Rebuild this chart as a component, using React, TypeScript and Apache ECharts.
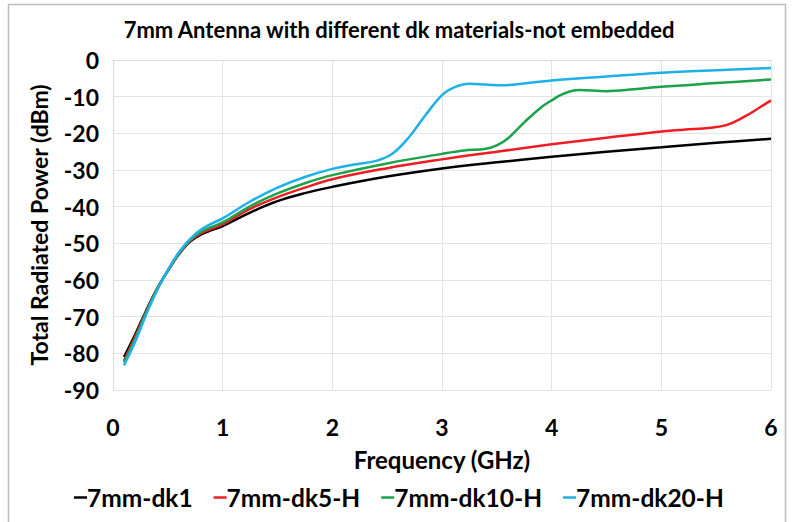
import React, { useEffect, useRef } from "react";
import * as echarts from "echarts";

const seriesNames = ["7mm-dk1", "7mm-dk5-H", "7mm-dk10-H", "7mm-dk20-H"];
const seriesColors = ["#000000", "#ee1d23", "#1aa34a", "#1eb1e7"];

const dk1Freq = [0.1, 0.2, 0.3, 0.4, 0.5, 0.6, 0.7, 0.8, 0.9, 1.0, 1.25, 1.5, 1.75, 2, 2.5, 3, 3.5, 4, 4.5, 5, 5.5, 6];
const dk1Power = [-81, -75, -68.5, -62.5, -57.5, -53, -49.6, -47.6, -46.4, -45.3, -41.6, -38.5, -36.3, -34.6, -31.8, -29.6, -27.9, -26.4, -25, -23.8, -22.6, -21.5];

const dk5Freq = [0.1, 0.2, 0.3, 0.4, 0.5, 0.6, 0.7, 0.8, 0.9, 1.0, 1.25, 1.5, 1.75, 2, 2.5, 3, 3.5, 4, 4.5, 5, 5.2, 5.45, 5.6, 5.75, 5.9, 6];
const dk5Power = [-82, -75.6, -68.8, -62.6, -57.5, -52.9, -49.4, -47.3, -46, -44.8, -40.6, -37.4, -34.8, -32.5, -29.5, -27.1, -25, -23, -21.2, -19.5, -19, -18.5, -17.7, -15.6, -12.9, -11];

const dk10Freq = [0.1, 0.2, 0.3, 0.4, 0.5, 0.6, 0.7, 0.8, 0.9, 1.0, 1.25, 1.5, 1.75, 2, 2.5, 3, 3.2, 3.4, 3.5, 3.6, 3.75, 3.9, 4.0, 4.1, 4.25, 4.5, 4.75, 5, 5.5, 6];
const dk10Power = [-82.5, -76.2, -69.1, -62.7, -57.4, -52.8, -49.2, -46.9, -45.5, -44.3, -39.9, -36.4, -33.6, -31.4, -28.2, -25.6, -24.7, -24.2, -23.3, -21.4, -17, -13, -11, -9.3, -8.2, -8.5, -8, -7.3, -6.3, -5.3];

const dk20Freq = [0.1, 0.2, 0.3, 0.4, 0.5, 0.6, 0.7, 0.8, 0.9, 1.0, 1.25, 1.5, 1.75, 2, 2.2, 2.4, 2.55, 2.7, 2.85, 3.0, 3.1, 3.25, 3.4, 3.55, 3.75, 4, 4.5, 5, 5.5, 6];
const dk20Power = [-83.3, -77, -69.6, -62.9, -57.3, -52.5, -48.9, -46.3, -44.6, -43.2, -38.6, -34.8, -31.9, -29.7, -28.5, -27.5, -25.5, -21, -15, -9.6, -7.6, -6.5, -6.7, -6.9, -6.4, -5.6, -4.5, -3.5, -2.8, -2.2];

const xTicks = [0, 1, 2, 3, 4, 5, 6];
const yTicks = [-90, -80, -70, -60, -50, -40, -30, -20, -10, 0];

const freqs = [dk1Freq, dk5Freq, dk10Freq, dk20Freq];
const powers = [dk1Power, dk5Power, dk10Power, dk20Power];

const FONT = "Lato";

export default function App() {
  const ref = useRef<HTMLDivElement>(null);
  useEffect(() => {
    if (!ref.current) return;
    const chart = echarts.init(ref.current, null, { renderer: "svg" });
    const series = seriesNames.map((name, i) => ({
      name,
      type: "line",
      data: freqs[i].map((f, j) => [f, powers[i][j]]),
      smooth: 0.4,
      showSymbol: false,
      lineStyle: { color: seriesColors[i], width: 2.5 },
      itemStyle: { color: seriesColors[i] },
    }));
    chart.setOption({
      animation: false,
      backgroundColor: "#ffffff",
      title: {
        text: "7mm Antenna with different dk materials-not embedded",
        left: 394,
        textAlign: "center",
        top: 13,
        textStyle: { fontFamily: FONT, fontWeight: "bold", fontSize: 22, color: "#000" },
      },
      graphic: [
        {
          type: "rect",
          shape: { x: 8.5, y: 4.5, width: 777, height: 540 },
          style: { fill: "none", stroke: "#bdbdbd", lineWidth: 1.5 },
          silent: true,
        },
      ],
      legend: {
        data: seriesNames,
        left: 69,
        top: 480,
        icon: "rect",
        itemWidth: 13,
        itemHeight: 2.5,
        itemGap: 21,
        textStyle: { fontFamily: FONT, fontWeight: "bold", fontSize: 24.5, color: "#000", padding: [0, 0, 0, -5] },
      },
      grid: { left: 113, right: 22, top: 60, bottom: 132, containLabel: false },
      xAxis: {
        type: "value",
        min: xTicks[0],
        max: xTicks[xTicks.length - 1],
        interval: 1,
        name: "Frequency (GHz)",
        nameLocation: "middle",
        nameGap: 57,
        nameTextStyle: { fontFamily: FONT, fontWeight: "bold", fontSize: 24, color: "#000" },
        axisLine: { show: true, lineStyle: { color: "#d9d9d9" } },
        axisTick: { show: false },
        axisLabel: { fontFamily: FONT, fontWeight: "bold", fontSize: 23, color: "#000", margin: 25 },
        splitLine: { show: true, lineStyle: { color: "#e3e3e3" } },
      },
      yAxis: {
        type: "value",
        min: yTicks[0],
        max: yTicks[yTicks.length - 1],
        interval: 10,
        name: "Total Radiated Power (dBm)",
        nameLocation: "middle",
        nameGap: 63,
        nameTextStyle: { fontFamily: FONT, fontWeight: "bold", fontSize: 23, color: "#000" },
        axisLine: { show: true, lineStyle: { color: "#d9d9d9" } },
        axisTick: { show: false },
        axisLabel: { fontFamily: FONT, fontWeight: "bold", fontSize: 23, color: "#000", margin: 14 },
        splitLine: { show: true, lineStyle: { color: "#e3e3e3" } },
      },
      series,
    });
    return () => chart.dispose();
  }, []);
  return (
    <div
      ref={ref}
      style={{ position: "fixed", left: 0, top: 0, width: 793, height: 522, background: "#fff" }}
    />
  );
}
